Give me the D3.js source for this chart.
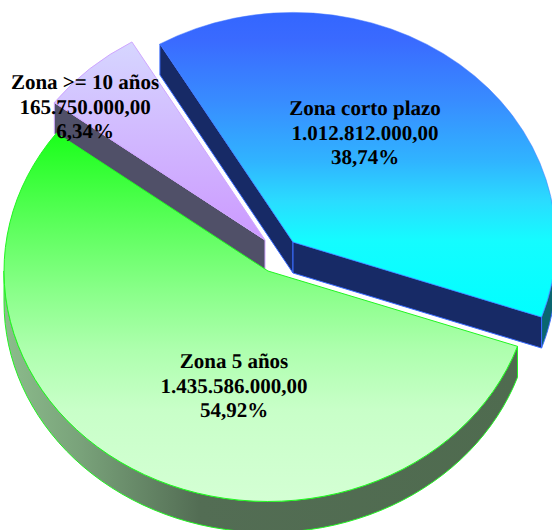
<!DOCTYPE html>
<html>
<head>
<meta charset="utf-8">
<script src="https://cdn.jsdelivr.net/npm/d3@7"></script>
<style>
html, body { margin: 0; padding: 0; background: #fff; }
svg { display: block; }
text { font-family: "Liberation Serif", serif; font-weight: bold; font-size: 21px; fill: #000; text-rendering: geometricPrecision; }
</style>
</head>
<body>
<svg id="chart" width="552" height="530"></svg>
<script>
// data
var zones = ["Zona corto plazo", "Zona 5 años", "Zona >= 10 años"];
var amounts = [1012812000, 1435586000, 165750000];
var amountLabels = ["1.012.812.000,00", "1.435.586.000,00", "165.750.000,00"];
var percentLabels = ["38,74%", "54,92%", "6,34%"];

// layout, the pie is a tilted circle pulled apart a bit
var radii = [263, 264, 263], tilt = 0.873, depth = 31;
var startDeg = -30.4;
var toRad = Math.PI / 180;
var centers = [[293, 242], [268, 271], [265, 240]];
var labelPos = [[365, 115], [234, 368], [85, 89]];
var lineGap = 24.6;

var topStops = [
    [[0, "#3366ff"], [0.09, "#3a6aff"], [0.29, "#388cff"], [0.49, "#30b4ff"], [0.62, "#2adcff"], [0.75, "#14fcff"], [1, "#00ffff"]],
    [[0, "#1aff1a"], [0.18, "#4aff4a"], [0.425, "#88ff88"], [0.59, "#aeffae"], [0.75, "#c8ffc8"], [1, "#d4ffd4"]],
    [[0, "#d6d6ff"], [1, "#cc99ff"]]
];
var strokes = ["#4477ff", "#22f522", "#cfa6ff"];
var strokeOpacity = [0.5, 1, 1];
var wallStroke = "#3a6cff";
var cutWall = ["#172a66", null, "#505068"];

var svg = d3.select("#chart");
var defs = svg.append("defs");

topStops.forEach(function(stops, i) {
    var g = defs.append("linearGradient").attr("id", "top" + i)
                .attr("x1", 0).attr("y1", 0).attr("x2", 0).attr("y2", 1);
    stops.forEach(function(s) {
        g.append("stop").attr("offset", s[0]).attr("stop-color", s[1]);
    });
});

// green outer wall goes from pale on the left to dark
var wallGrad = defs.append("linearGradient").attr("id", "greenWall")
                   .attr("x1", 0).attr("y1", 0).attr("x2", 1).attr("y2", 0);
[[0, "#8cbc8c"], [0.15, "#79a27a"], [0.38, "#536d54"], [1, "#4f6b4f"]].forEach(function(s) {
    wallGrad.append("stop").attr("offset", s[0]).attr("stop-color", s[1]);
});

var pie = d3.pie().sort(null)
            .startAngle(startDeg * toRad)
            .endAngle((startDeg + 360) * toRad);
var slices = pie(amounts);

var line = d3.line();

// point on the rim (or the center when r is 0), angle clockwise from north
function rim(i, a, r, drop) {
    var c = centers[i];
    return [c[0] + r * Math.sin(a), c[1] - tilt * r * Math.cos(a) + drop];
}

// flat wall along a cut edge from the center to the rim
function cutPath(i, a) {
    var r = radii[i];
    return line([rim(i, a, 0, 0), rim(i, a, r, 0), rim(i, a, r, depth), rim(i, a, 0, depth)]) + "Z";
}

// curved wall along the rim between two angles
function rimPath(i, a0, a1) {
    var r = radii[i];
    var angles = d3.range(0, 61).map(function(k) { return a0 + (a1 - a0) * k / 60; });
    var upper = angles.map(function(a) { return rim(i, a, r, 0); });
    var lower = angles.slice().reverse().map(function(a) { return rim(i, a, r, depth); });
    return line(upper.concat(lower)) + "Z";
}

function drawTop(i) {
    var arc = d3.arc().innerRadius(0).outerRadius(radii[i]);
    svg.append("path")
       .attr("d", arc(slices[i]))
       .attr("transform", "translate(" + centers[i][0] + "," + centers[i][1] + ") scale(1," + tilt + ")")
       .attr("fill", "url(#top" + i + ")")
       .attr("stroke", strokes[i])
       .attr("stroke-opacity", strokeOpacity[i])
       .attr("stroke-width", 1)
       .attr("vector-effect", "non-scaling-stroke");
}

function drawWall(d, fill, stroke) {
    svg.append("path").attr("d", d).attr("fill", fill)
       .attr("stroke", stroke).attr("stroke-width", 1).attr("stroke-linejoin", "round");
}

// blue slice
drawWall(cutPath(0, slices[0].startAngle), cutWall[0], wallStroke);
drawWall(rimPath(0, Math.PI / 2, slices[0].endAngle), "#0a6670", wallStroke);
drawWall(cutPath(0, slices[0].endAngle), cutWall[0], wallStroke);
drawTop(0);

// lilac slice
drawWall(cutPath(2, slices[2].startAngle), cutWall[2], strokes[2]);
drawTop(2);

// green slice
drawWall(rimPath(1, slices[1].startAngle, 1.5 * Math.PI), "url(#greenWall)", strokes[1]);
drawTop(1);

// labels
zones.forEach(function(z, i) {
    var t = svg.append("text").attr("text-anchor", "middle");
    [z, amountLabels[i], percentLabels[i]].forEach(function(s, k) {
        t.append("tspan").attr("x", labelPos[i][0]).attr("y", labelPos[i][1] + k * lineGap).text(s);
    });
});
</script>
</body>
</html>
